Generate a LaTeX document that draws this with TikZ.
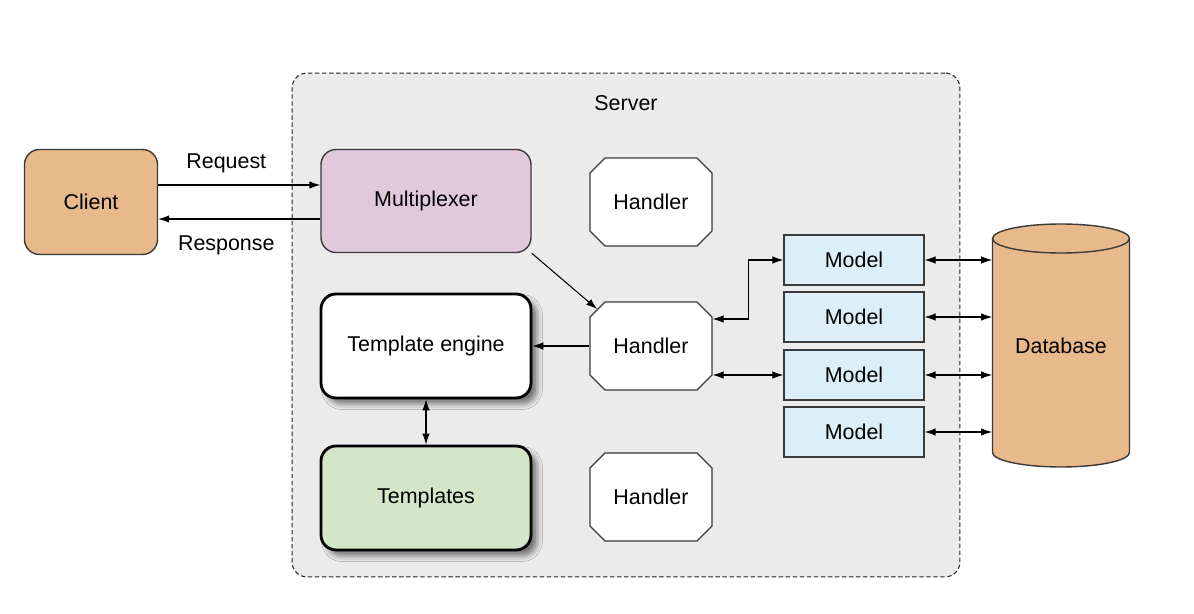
\documentclass[tikz,border=0pt]{standalone}
\usepackage{fontspec}
\setmainfont{Liberation Sans}
\usetikzlibrary{arrows.meta,shapes.misc,shadows.blur}

\definecolor{serverbg}{HTML}{EBEBEB}
\definecolor{clientfill}{HTML}{E8B98A}
\definecolor{muxfill}{HTML}{E1C9DD}
\definecolor{tplfill}{HTML}{D3E6C7}
\definecolor{modelfill}{HTML}{DCEEF7}
\definecolor{edgegray}{HTML}{3A3A3A}

\tikzset{
  every node/.style={font=\fontsize{12.2}{14}\selectfont},
  box/.style={draw=edgegray, line width=0.8pt, rounded corners=0.3cm,
    minimum width=4.2cm, minimum height=2.06cm},
  clientbox/.style={box, fill=clientfill, minimum width=2.66cm, minimum height=2.1cm},
  muxbox/.style={box, fill=muxfill},
  tplbox/.style={box, draw=black, line width=1.6pt, minimum height=2.08cm,
    blur shadow={shadow xshift=1.2mm, shadow yshift=-1.2mm,
      shadow blur radius=1.1mm, shadow opacity=50}},
  handler/.style={chamfered rectangle, chamfered rectangle sep=0.15cm,
    draw=edgegray, fill=white, line width=0.7pt,
    minimum width=2.44cm, minimum height=1.76cm},
  model/.style={rectangle, draw=edgegray, fill=modelfill, line width=0.7pt,
    minimum width=2.8cm, minimum height=1cm},
  dbnode/.style={rectangle, minimum width=2.74cm, minimum height=4.86cm},
  dbbody/.style={draw=edgegray, fill=clientfill, line width=0.8pt},
  conn/.style={line width=0.6pt, -{Latex[length=2.2mm,width=1.5mm]}},
  biconn/.style={line width=0.6pt,
    {Latex[length=2.2mm,width=1.5mm]}-{Latex[length=2.2mm,width=1.5mm]}},
}

\begin{document}
\begin{tikzpicture}[x=0.02cm, y=-0.02cm]
  \useasboundingbox (0,0) rectangle (1194,614);

  % server area
  \node[draw=black!85, fill=serverbg, dash pattern=on 2.5pt off 1.5pt,
    rounded corners=0.3cm, line width=0.6pt,
    minimum width=13.36cm, minimum height=10.08cm] (server) at (626,325) {};
  \node (srvlabel) at (626,103) {Server};

  % boxes
  \node[clientbox] (client) at (91,202) {Client};
  \node[muxbox] (mux) at (426,201) {Multiplexer};
  \node[tplbox, fill=white] (engine) at (426,346) {Template engine};
  \node[tplbox, fill=tplfill] (tpls) at (426,498) {Templates};

  \node[handler] (h1) at (651,202) {Handler};
  \node[handler] (h2) at (651,346) {Handler};
  \node[handler] (h3) at (651,497) {Handler};

  \node[model] (m1) at (854,260) {Model};
  \node[model] (m2) at (854,317) {Model};
  \node[model] (m3) at (854,375) {Model};
  \node[model] (m4) at (854,432) {Model};

  % database cylinder
  \filldraw[dbbody] (992.5,238.5) -- (992.5,452.5)
    arc[start angle=180, end angle=360, x radius=1.37cm, y radius=0.29cm]
    -- (1129.5,238.5)
    arc[start angle=0, end angle=180, x radius=1.37cm, y radius=0.29cm] -- cycle;
  \draw[dbbody, fill=none] (992.5,238.5)
    arc[start angle=180, end angle=360, x radius=1.37cm, y radius=0.29cm];
  \node[dbnode] (db) at (1061,345.5) {Database};

  % request / response
  \draw[conn] ([yshift=0.34cm]client.east) -- ([yshift=0.34cm]client.east -| mux.west)
    node[pos=0.42, above=3pt] {Request};
  \draw[conn] ([yshift=-0.36cm]mux.west) -- ([yshift=-0.36cm]mux.west -| client.east)
    node[pos=0.58, below=6pt] {Response};

  % inside the server
  \draw[conn] (mux.south east) -- (h2.north west);
  \draw[conn] (h2.west) -- (engine.east);
  \draw[biconn] (engine.south) -- (tpls.north);
  \draw[biconn] ([yshift=0.54cm]h2.east) -- ++(36,0) |- (m1.west);
  \draw[biconn] (m3.west -| h2.east) -- (m3.west);

  % models to database
  \foreach \m in {m1,m2,m3,m4}
    \draw[biconn] (\m.east) -- (\m.east -| db.west);
\end{tikzpicture}
\end{document}
